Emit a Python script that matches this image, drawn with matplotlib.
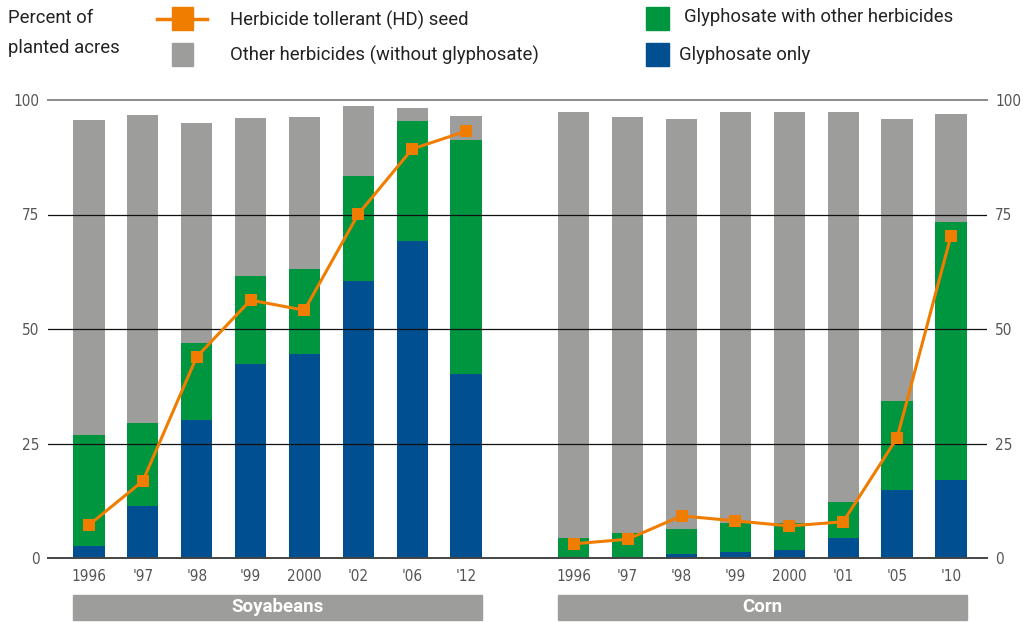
import matplotlib
matplotlib.use("Agg")
import matplotlib.pyplot as plt
import matplotlib.transforms as mtransforms
from matplotlib.patches import Rectangle
from matplotlib.lines import Line2D

# ---- data (percent of planted acres) ----
soy_years = ["1996", "'97", "'98", "'99", "2000", "'02", "'06", "'12"]
soy_total = [95.6, 96.7, 95.0, 96.1, 96.3, 98.7, 98.3, 96.5]
soy_glyph_with_other = [24.3, 18.1, 16.8, 19.2, 18.6, 22.9, 26.2, 51.1]
soy_glyph_only = [2.6, 11.4, 30.1, 42.4, 44.5, 60.5, 69.2, 40.2]
soy_ht_seed = [7.2, 16.8, 43.9, 56.3, 54.1, 75.1, 89.3, 93.2]

corn_years = ["1996", "'97", "'98", "'99", "2000", "'01", "'05", "'10"]
corn_total = [97.4, 96.3, 95.9, 97.4, 97.4, 97.4, 95.9, 96.9]
corn_glyph_with_other = [4.2, 5.2, 5.4, 6.3, 5.9, 7.8, 19.5, 56.4]
corn_glyph_only = [0.2, 0.3, 0.9, 1.3, 1.7, 4.4, 14.8, 17.0]
corn_ht_seed = [3.1, 4.1, 9.2, 8.1, 7.0, 7.9, 26.2, 70.3]

crop_names = ["Soyabeans", "Corn"]
y_ticks = [0, 25, 50, 75, 100]

legend_labels = ["Herbicide tollerant (HD) seed",
                 "Other herbicides (without glyphosate)",
                 "Glyphosate with other herbicides",
                 "Glyphosate only"]

# ---- style ----
GRAY = "#9d9d9c"
GREEN = "#009640"
BLUE = "#004f91"
ORANGE = "#f07d00"
TEXT = "#222222"
TICK_COLOR = "#555555"
MAIN_FONT = ["Roboto", "DejaVu Sans"]
TICK_KW = dict(fontsize=11, color=TICK_COLOR, family="DejaVu Sans",
               fontstretch="condensed")

fig = plt.figure(figsize=(10.23, 6.22), dpi=100)
ax = fig.add_axes([48 / 1023, 64 / 622, (987 - 48) / 1023, 458 / 622])

groups = [
    (list(range(0, 8)), soy_years, soy_total, soy_glyph_with_other, soy_glyph_only, soy_ht_seed),
    (list(range(9, 17)), corn_years, corn_total, corn_glyph_with_other, corn_glyph_only, corn_ht_seed),
]

width = 0.58
all_pos, all_labels = [], []
for pos, years, total, gwo, gonly, ht in groups:
    other = [t - a - b for t, a, b in zip(total, gwo, gonly)]
    ax.bar(pos, gonly, width=width, color=BLUE, zorder=2)
    ax.bar(pos, gwo, width=width, bottom=gonly, color=GREEN, zorder=2)
    base3 = [a + b for a, b in zip(gonly, gwo)]
    ax.bar(pos, other, width=width, bottom=base3, color=GRAY, zorder=2)
    ax.plot(pos, ht, color=ORANGE, lw=2.2, marker="s", markersize=9,
            markeredgewidth=0, zorder=5)
    all_pos += pos
    all_labels += years

ax.set_xlim(-0.76, 16.67)
ax.set_ylim(0, 100)

# horizontal reference lines
for v in y_ticks:
    if v == 0:
        ax.axhline(v, color="#444444", lw=1.4, zorder=4, clip_on=False)
    elif v == 100:
        ax.axhline(v, color="#8a8a8a", lw=1.4, zorder=4, clip_on=False)
    else:
        ax.axhline(v, color="#111111", lw=0.9, zorder=4)

for s in ax.spines.values():
    s.set_visible(False)
ax.tick_params(length=0)
ax.set_yticks(y_ticks)
ax.set_yticklabels([str(v) for v in y_ticks], **TICK_KW)
ax.tick_params(axis="y", pad=6, labelright=True, labelleft=True)
for lab in ax.get_yticklabels(which="both"):
    lab.set_fontstretch("condensed")
ax.set_xticks(all_pos)
ax.set_xticklabels(all_labels, **TICK_KW)
ax.tick_params(axis="x", pad=8)

# crop name bands under the axis
trans = mtransforms.blended_transform_factory(ax.transData, fig.transFigure)
for (pos, *_), name in zip(groups, crop_names):
    x0 = pos[0] - width / 2
    x1 = pos[-1] + width / 2
    ax.add_patch(Rectangle((x0, 2 / 622), x1 - x0, 25 / 622, transform=trans,
                           color=GRAY, clip_on=False, zorder=1))
    ax.text((x0 + x1) / 2, 14.5 / 622, name, transform=trans, ha="center",
            va="center", color="white", fontsize=13.5, fontweight="bold",
            family=MAIN_FONT)

# header text and legend
def fy(py):
    return 1 - py / 622

def fx(px):
    return px / 1023

FS = 13.3
fig.text(fx(8), fy(18), "Percent of", fontsize=FS, color=TEXT, va="center",
         family=MAIN_FONT)
fig.text(fx(8), fy(48), "planted acres", fontsize=FS, color=TEXT, va="center",
         family=MAIN_FONT)

fig.add_artist(Line2D([fx(157), fx(207)], [fy(18.5), fy(18.5)], color=ORANGE,
                      lw=2.5, transform=fig.transFigure))
fig.add_artist(Rectangle((fx(172), fy(30)), 21 / 1023, 23 / 622, color=ORANGE,
                         transform=fig.transFigure))
fig.add_artist(Rectangle((fx(172), fy(66)), 21 / 1023, 23 / 622, color=GRAY,
                         transform=fig.transFigure))
fig.add_artist(Rectangle((fx(646), fy(30)), 23 / 1023, 23 / 622, color=GREEN,
                         transform=fig.transFigure))
fig.add_artist(Rectangle((fx(646), fy(66)), 23 / 1023, 23 / 622, color=BLUE,
                         transform=fig.transFigure))

fig.text(fx(230), fy(20), legend_labels[0], fontsize=FS, color=TEXT,
         va="center", family=MAIN_FONT)
fig.text(fx(230), fy(55), legend_labels[1], fontsize=FS, color=TEXT,
         va="center", family=MAIN_FONT)
fig.text(fx(684), fy(17), legend_labels[2], fontsize=FS, color=TEXT,
         va="center", family=MAIN_FONT)
fig.text(fx(679), fy(55), legend_labels[3], fontsize=FS, color=TEXT,
         va="center", family=MAIN_FONT)

fig.savefig("out.png", dpi=100)
